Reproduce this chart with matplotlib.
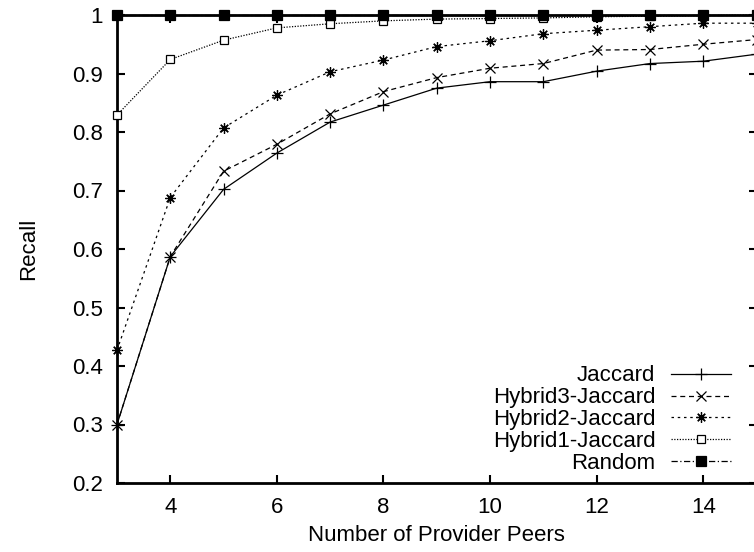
import matplotlib
matplotlib.use("Agg")
import matplotlib.pyplot as plt
from matplotlib.ticker import FixedLocator

plt.rcParams['font.family'] = ['Liberation Sans', 'DejaVu Sans']

# Recall vs. number of provider peers
peers = [3, 4, 5, 6, 7, 8, 9, 10, 11, 12, 13, 14, 15]
jaccard = [0.300, 0.587, 0.702, 0.764, 0.817, 0.846, 0.875, 0.886, 0.886, 0.904, 0.917, 0.921, 0.933]
hybrid3 = [0.300, 0.587, 0.733, 0.779, 0.831, 0.869, 0.893, 0.909, 0.917, 0.940, 0.941, 0.950, 0.958]
hybrid2 = [0.427, 0.688, 0.807, 0.863, 0.903, 0.923, 0.946, 0.956, 0.968, 0.974, 0.980, 0.986, 0.986]
hybrid1 = [0.829, 0.924, 0.957, 0.978, 0.985, 0.990, 0.993, 0.994, 0.995, 0.997, 0.998, 0.999, 1.000]
random_sel = [1.0] * len(peers)

series_names = ["Jaccard", "Hybrid3-Jaccard", "Hybrid2-Jaccard", "Hybrid1-Jaccard", "Random"]
y_ticks = [0.2, 0.3, 0.4, 0.5, 0.6, 0.7, 0.8, 0.9, 1.0]
y_tick_labels = ["0.2", "0.3", "0.4", "0.5", "0.6", "0.7", "0.8", "0.9", "1"]
x_ticks = [4, 6, 8, 10, 12, 14]

FS = 16
W, H = 754, 552
fig = plt.figure(figsize=(W / 100, H / 100), dpi=100)
left, right, top, bottom = 117, 756.5, 15, 483
ax = fig.add_axes([left / W, 1 - bottom / H, (right - left) / W, (bottom - top) / H])

lw = 0.9
asterisk = (8, 2, 0)
styles = [
    dict(linestyle='-', marker='+', markersize=8, markeredgewidth=lw),
    dict(linestyle=(0, (4, 3)), marker='x', markersize=6.5, markeredgewidth=lw),
    dict(linestyle=(0, (2, 3)), marker=asterisk, markersize=7.5, markeredgewidth=lw),
    dict(linestyle=(0, (1, 1.2)), marker='s', markersize=5.5, markerfacecolor='white',
         markeredgewidth=lw),
    dict(linestyle=(0, (5, 2, 1, 2)), marker='s', markersize=6.5, markeredgewidth=lw),
]
all_series = [jaccard, hybrid3, hybrid2, hybrid1, random_sel]
for vals, name, st in zip(all_series, series_names, styles):
    ax.plot(peers, vals, color='black', linewidth=lw, label=name, clip_on=False,
            zorder=3, **st)

ax.set_xlim(3, 15)
ax.set_ylim(0.2, 1.0)
ax.xaxis.set_major_locator(FixedLocator(x_ticks))
ax.set_yticks(y_ticks)
ax.set_yticklabels(y_tick_labels)

for sp in ax.spines.values():
    sp.set_linewidth(2)
ax.tick_params(direction='in', length=6, width=1.5, top=True, right=True,
               labelsize=FS, pad=10)

ax.set_xlabel("Number of Provider Peers", fontsize=FS, labelpad=5)
ax.set_ylabel("Recall", fontsize=FS, labelpad=24)

ax.legend(loc='lower right', bbox_to_anchor=(731 / W, 1 - 474 / H),
          bbox_transform=fig.transFigure, frameon=False, markerfirst=False,
          fontsize=FS, handlelength=2.7, handletextpad=0.7, labelspacing=0.04,
          borderpad=0, borderaxespad=0, numpoints=1)

fig.savefig("out.png", dpi=100)
